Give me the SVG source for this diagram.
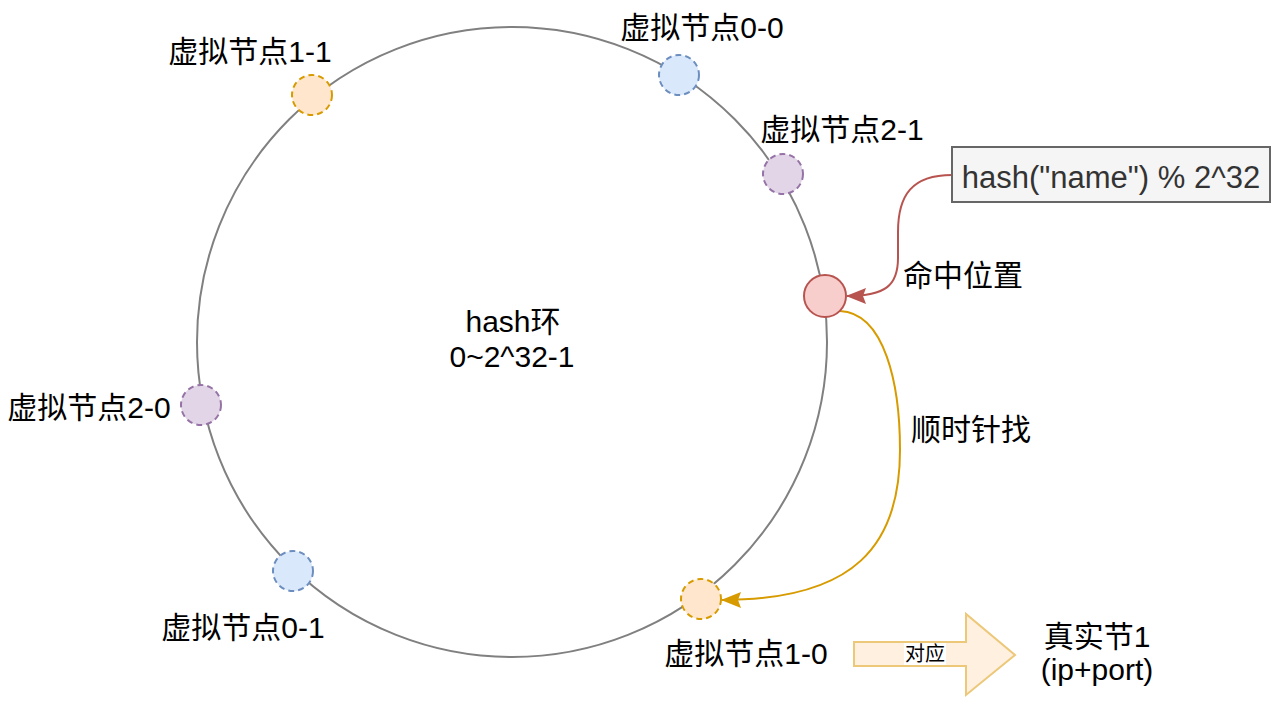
<svg xmlns="http://www.w3.org/2000/svg" width="1280" height="705" viewBox="0 0 1280 705">
<style>
text{font-family:"Liberation Sans","Noto Sans CJK SC",sans-serif;font-size:30px;fill:#000;text-anchor:middle}
.vn{stroke-width:2;stroke-dasharray:6 4}
.blue{fill:#dae8fc;stroke:#6c8ebf}
.orange{fill:#ffe6cc;stroke:#d79b00}
.purple{fill:#e1d5e7;stroke:#9673a6}
</style>
<defs>
<marker id="ar" viewBox="0 0 20 16" refX="19" refY="8" markerWidth="20" markerHeight="16" markerUnits="userSpaceOnUse" orient="auto">
<path d="M0,0 L20,8 L0,16 L3,8 Z" fill="#b85450"/>
</marker>
<marker id="ao" viewBox="0 0 20 16" refX="19" refY="8" markerWidth="20" markerHeight="16" markerUnits="userSpaceOnUse" orient="auto">
<path d="M0,0 L20,8 L0,16 L3,8 Z" fill="#d79b00"/>
</marker>
</defs>
<rect width="1280" height="705" fill="#fff"/>
<g id="ring">
<circle cx="512" cy="342" r="315" fill="none" stroke="#808080" stroke-width="2"/>
<text x="513" y="332">hash环</text>
<text x="512" y="367">0~2^32-1</text>
</g>
<g id="connectors" fill="none" stroke-width="2">
<path d="M952,175 C912,175 898,195 898,232 L898,258 C898,285 886,296 847,296" stroke="#b85450" marker-end="url(#ar)"/>
<path d="M840,311 C885,313 900,385 900,450 C900,545 855,600 722,600" stroke="#d79b00" marker-end="url(#ao)"/>
</g>
<g id="vn11"><circle class="vn orange" cx="312" cy="95" r="20"/><text x="250" y="62">虚拟节点1-1</text></g>
<g id="vn00"><circle class="vn blue" cx="679" cy="75" r="20"/><text x="702" y="38">虚拟节点0-0</text></g>
<g id="vn21"><circle class="vn purple" cx="783" cy="174" r="20"/><text x="842" y="140">虚拟节点2-1</text></g>
<g id="vn20"><circle class="vn purple" cx="201" cy="405" r="20"/><text x="89" y="418">虚拟节点2-0</text></g>
<g id="vn01"><circle class="vn blue" cx="293" cy="571" r="20"/><text x="243" y="638">虚拟节点0-1</text></g>
<g id="vn10"><circle class="vn orange" cx="701" cy="599" r="20"/><text x="746" y="664">虚拟节点1-0</text></g>
<g id="hit"><circle cx="825" cy="296" r="21" fill="#f8cecc" stroke="#b85450" stroke-width="2"/><text x="963" y="286">命中位置</text></g>
<g id="hashbox"><rect x="952" y="147" width="318" height="55" fill="#f5f5f5" stroke="#666666" stroke-width="2"/><text x="1111" y="188" style="fill:#333333;font-size:31px">hash("name") % 2^32</text></g>
<g id="clockwise"><text x="971" y="440">顺时针找</text></g>
<g id="map">
<path d="M854,642 L966,642 L966,614 L1015,655 L966,695 L966,666 L854,666 Z" fill="#fff0e0" stroke="#ecc878" stroke-width="2"/>
<rect x="904" y="643" width="42" height="22" fill="#fff"/>
<text x="925" y="661" style="font-size:20px">对应</text>
</g>
<g id="real"><text x="1097" y="647">真实节1</text><text x="1097" y="680">(ip+port)</text></g>
</svg>
